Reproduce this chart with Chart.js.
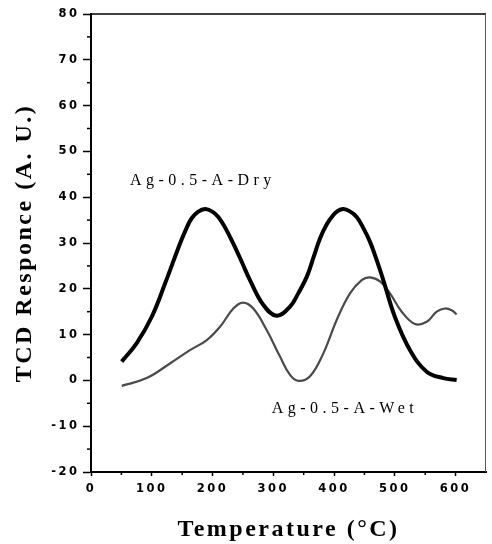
<!DOCTYPE html>
<html><head><meta charset="utf-8">
<script src="https://cdn.jsdelivr.net/npm/chart.js@4/dist/chart.umd.min.js"></script>
<style>html,body{margin:0;padding:0;background:#fff}</style>
</head><body>
<canvas id="c" width="492" height="544"></canvas>
<script>
// ---- data ----
const dryTemp = [50.5,75,100,122,146.5,157,165.7,176,187.8,199,209.5,221,234,248,261.6,283.6,305.5,327.5,341,355,366,376.8,388,398.8,406,415.3,426,437.2,448,459,470,481,500,525,552.4,579.7,601.7];
const dryTCD  = [4.1,8.1,13.9,21.2,29.9,33.2,35.4,36.8,37.4,36.9,35.7,33.3,29.9,25.9,21.9,16.5,14.1,16.1,19,22.6,26.8,31,34.1,36.1,37,37.4,36.9,35.7,33.3,30.3,26.3,21.9,13.9,6.6,1.9,0.5,0.1];
const wetTemp = [50.5,91.6,130,162.9,190.6,212.3,234.2,250,267.1,289.1,311,327.5,341.2,360.4,382.3,404.3,426.2,445.4,459.1,475.6,492,511.3,533.2,552.4,568.9,582.6,593.5,601.7];
const wetTCD  = [-1.2,0.5,3.7,6.6,8.8,11.7,15.7,17,15.7,11,5.2,1.2,-0.1,0.9,5.9,13.2,19,21.9,22.5,21.6,19,15,12.3,12.8,15,15.7,15.3,14.4];
const seriesNames = ['Ag-0.5-A-Dry','Ag-0.5-A-Wet'];
const labelPos = [[64,42.7],[297.4,-7.2]]; // data coords of label baselines (left)
const xTitle = 'Temperature (\u00B0C)';
const yTitle = 'TCD Responce (A. U.)';
const xRange = [0,650], yRange = [-20,80];

const pts = (xs, ys) => xs.map((x,i)=>({x, y: ys[i]}));

const spacingPlugin = {
  id:'spacing',
  beforeDraw(c){ c.ctx.letterSpacing='2.5px'; },
  beforeDatasetsDraw(c){ c.ctx.letterSpacing='0px'; },
  afterDatasetsDraw(c){ c.ctx.letterSpacing='2.5px'; },
  afterDraw(c){ c.ctx.letterSpacing='0px'; }
};

const framePlugin = {
  id:'frame',
  afterDraw(c){
    const {ctx, chartArea:a, scales:{x,y}} = c;
    ctx.save();
    ctx.strokeStyle='#000'; ctx.lineWidth=1.5;
    ctx.beginPath(); ctx.moveTo(a.left, a.top); ctx.lineTo(a.right, a.top); ctx.stroke();
    ctx.strokeStyle='#555'; ctx.lineWidth=1;
    ctx.beginPath(); ctx.moveTo(a.right-0.5, a.top); ctx.lineTo(a.right-0.5, a.bottom); ctx.stroke();
    ctx.strokeStyle='#000'; ctx.lineWidth=1.5;
    for (let v=yRange[0]+5; v<yRange[1]; v+=10){
      const py = y.getPixelForValue(v);
      ctx.beginPath(); ctx.moveTo(a.left-4, py); ctx.lineTo(a.left, py); ctx.stroke();
    }
    for (let v=50; v<xRange[1]; v+=100){
      const px = x.getPixelForValue(v);
      ctx.beginPath(); ctx.moveTo(px, a.bottom); ctx.lineTo(px, a.bottom+3); ctx.stroke();
    }
    ctx.letterSpacing='4.5px';
    ctx.fillStyle='#000';
    ctx.font='16px "Liberation Serif", "Times New Roman", serif';
    ctx.textBaseline='alphabetic'; ctx.textAlign='left';
    seriesNames.forEach((n,i)=>{
      ctx.fillText(n, x.getPixelForValue(labelPos[i][0]), y.getPixelForValue(labelPos[i][1]));
    });
    ctx.restore();
  }
};

new Chart(document.getElementById('c'), {
  type:'line',
  data:{ datasets:[
    { label:seriesNames[0], data:pts(dryTemp,dryTCD), borderColor:'#000', borderWidth:4, tension:0.4, pointRadius:0, fill:false },
    { label:seriesNames[1], data:pts(wetTemp,wetTCD), borderColor:'#4a4a4a', borderWidth:2.2, tension:0.4, pointRadius:0, fill:false }
  ]},
  options:{
    responsive:false, animation:false, devicePixelRatio:1,
    layout:{ padding:{ top:14, right:6, left:0, bottom:0 } },
    plugins:{ legend:{display:false}, tooltip:{enabled:false} },
    scales:{
      x:{
        type:'linear', min:xRange[0], max:xRange[1],
        afterFit(s){ s.height = 72; },
        ticks:{ stepSize:100, includeBounds:false, color:'#000', padding:6, z:1,
          font:{ family:'"DejaVu Sans", sans-serif', size:11.5, weight:'bold' } },
        grid:{ drawOnChartArea:false, tickLength:4, tickColor:'#000', tickWidth:1.5 },
        border:{ color:'#000', width:2 },
        title:{ display:true, text:xTitle, color:'#000', padding:{top:0,bottom:0},
          font:{ family:'"Liberation Serif", "Times New Roman", serif', size:24, weight:'bold', lineHeight:1.2 } }
      },
      y:{
        type:'linear', min:yRange[0], max:yRange[1],
        afterFit(s){ s.width = 91; },
        ticks:{ stepSize:10, color:'#000', padding:3.5, z:1,
          font:{ family:'"DejaVu Sans", sans-serif', size:11.5, weight:'bold' } },
        grid:{ drawOnChartArea:false, tickLength:8, tickColor:'#000', tickWidth:1.5 },
        border:{ color:'#000', width:2 },
        title:{ display:true, text:yTitle, color:'#000', padding:{top:10.6,bottom:0},
          font:{ family:'"Liberation Serif", "Times New Roman", serif', size:24, weight:'bold', lineHeight:1.2 } }
      }
    }
  },
  plugins:[spacingPlugin, framePlugin]
});
</script>
</body></html>
